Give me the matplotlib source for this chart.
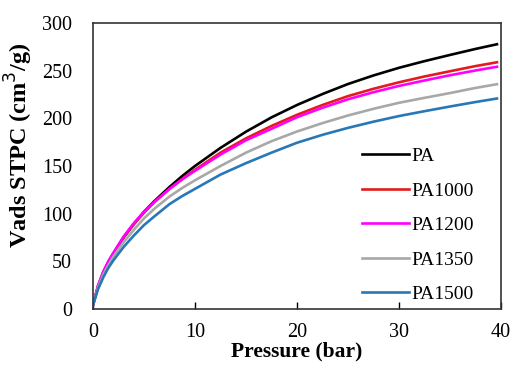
import matplotlib.pyplot as plt

# Adsorption isotherms, volume adsorbed vs. pressure
pressure = [0, 0.5, 1, 1.5, 2, 3, 4, 5, 6, 7.5, 8.75, 10, 12.5, 15, 17.5,
            20, 22.5, 25, 27.5, 30, 32.5, 35, 37.5, 39.6]
pa = [4, 24, 38, 49, 58, 75, 89, 102, 113, 128, 139.5, 150, 169, 186, 201,
      214, 225.5, 236, 245, 253, 260, 266.5, 272.8, 277.7]
pa1000 = [4, 24, 38, 49, 58, 75, 89, 101, 112, 126, 136.5, 146, 164, 179, 192,
          203.7, 214, 223.3, 231, 237.8, 243.9, 249.4, 254.8, 258.8]
pa1200 = [4, 25, 39, 50, 59, 76, 90, 102, 112, 126, 136, 145, 162, 177, 189,
          201.2, 211.1, 220, 227.4, 234, 239.7, 245.2, 250.2, 254.1]
pa1350 = [4, 23, 36, 46, 55, 70, 83, 95, 105, 118, 127, 135, 150, 164, 176,
          186.2, 195, 203, 210, 216.3, 221.5, 226.5, 231.9, 235.8]
pa1500 = [4, 21, 33, 43, 51, 65, 77, 88, 97, 110, 118.5, 126, 141, 153, 164,
          174.4, 182.7, 190, 196.5, 202.4, 207.5, 212.4, 217.1, 220.8]

series = [("PA", pa, "black"),
          ("PA1000", pa1000, "#e41a1c"),
          ("PA1200", pa1200, "#ff00ff"),
          ("PA1350", pa1350, "#a8a8a8"),
          ("PA1500", pa1500, "#2878b8")]

plt.rcParams['font.family'] = ['Liberation Serif', 'DejaVu Serif']

fig = plt.figure(figsize=(5.12, 3.65), dpi=100)
ax = fig.add_axes([0.1816, 0.1534, 0.797, 0.7836])

for name, vals, col in series:
    ax.plot(pressure, vals, color=col, lw=1.9, label=name)

ax.set_xlim(0, 40)
ax.set_ylim(0, 300)
ax.set_xticks([0, 10, 20, 30, 40])
ax.set_yticks([0, 50, 100, 150, 200, 250, 300])
ax.tick_params(axis='x', direction='in', length=5, width=1, pad=10, labelsize=14.5)
ax.tick_params(axis='y', length=0, pad=15, labelsize=14.5)
for s in ax.spines.values():
    s.set_color('#333333')
    s.set_linewidth(1.2)

ax.set_xlabel('Pressure (bar)', fontsize=15.5, fontweight='bold', labelpad=0)
ax.set_ylabel('Vads STPC (cm$^3$/g)', fontsize=17.5, fontweight='bold')
ax.yaxis.set_label_coords(-0.142, 0.573)

leg = ax.legend(loc='lower right', frameon=False, fontsize=14, handlelength=2.4,
                handletextpad=0.15, labelspacing=0.87, borderaxespad=0, borderpad=0,
                bbox_to_anchor=(0.934, 0.02))

fig.savefig('out.png', dpi=100)
